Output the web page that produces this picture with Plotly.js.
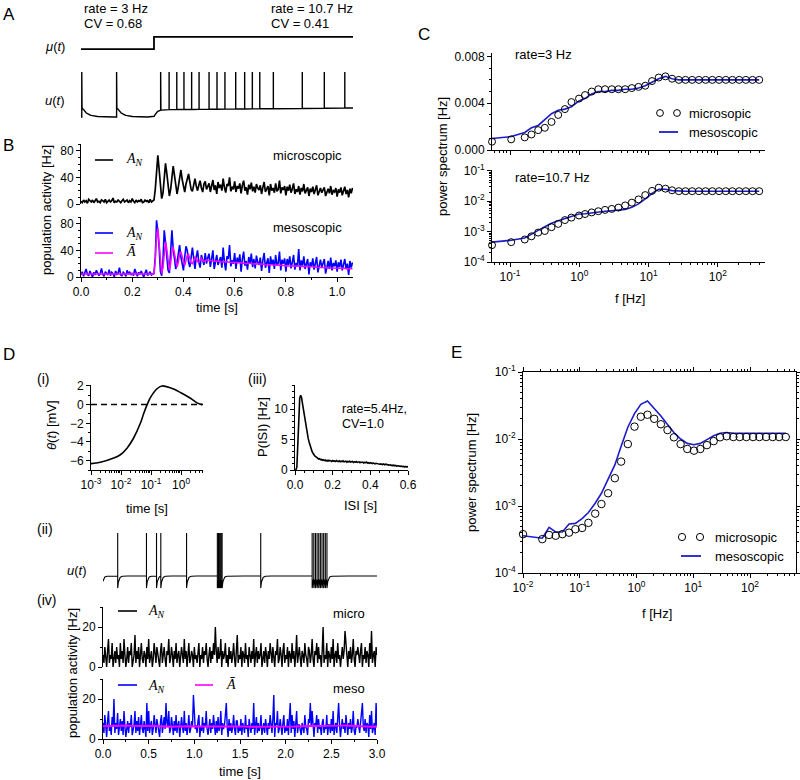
<!DOCTYPE html>
<html><head><meta charset="utf-8">
<script src="https://cdn.plot.ly/plotly-3.0.1.min.js"></script>
<style>body{margin:0;background:#fff}#g{width:800px;height:780px}</style>
</head><body><div id="g"></div>
<script>
// ================= DATA =================
// ---- Panel A : input step and single-neuron membrane potential ----
const aMuT = [0, 0.285, 0.285, 1.062];
const aMuV = [0, 0, 1, 1];
const aSpikes = [0.003, 0.139, 0.311, 0.344, 0.374, 0.402, 0.432, 0.461, 0.500, 0.531, 0.562, 0.604, 0.639, 0.669, 0.698, 0.751, 0.864, 0.950, 1.030];
const aStep = 0.285, aEnd = 1.062;
const aResetLow = 0.22;          // normalised potential after a spike (low input)
const aBaseHigh = [0.16, 0.20];  // normalised resting level under high input

// ---- Panel B : population activity (dt = 5 ms) ----
const bDt = 0.005;
const bMicro = [4,2,6,3,5,1,7,4,3,6, 2,5,8,3,4,2,6,5,3,7, 2,4,6,3,5,9,2,4,3,6, 4,2,5,7,3,4,6,2,5,3, 8,4,2,6,3,5,4,7,2,3, 6,4,5,2,7,3,4,6,
 22,58,73,52,22,8,16,42,61,46, 24,12,22,44,57,43,26,15,26,41, 51,37,25,18,30,40,45,33,22,19, 31,38,27,20,28,35,24,18,30,34, 22,27,
 31,18,26,36,21,28,15,33,24,29, 20,38,25,17,30,27,40,19,26,22, 34,18,27,23,31,16,28,35,20,25, 14,29,22,32,19,26,17,30,24,21,
 28,15,25,33,18,23,27,13,30,20, 24,17,31,19,22,35,16,25,21,27, 13,26,20,29,17,23,31,15,22,18, 27,14,24,19,30,16,21,25,12,23,
 18,26,15,22,28,13,20,24,17,21, 25,12,19,23,16,27,14,20,18,24, 11,22,17,25,13,19,26,15,21,10, 23,16,24];
const bMeso = [3,8,1,6,12,4,2,9,5,0, 7,3,10,6,2,5,13,4,1,8, 6,3,11,2,7,5,0,9,4,6, 14,3,2,7,5,1,10,4,8,3, 6,2,12,5,1,7,4,9,3,0, 6,11,2,5,8,3,4,6,
 30,85,68,45,8,2,25,70,52,35, 10,6,38,70,42,30,12,22,35,48, 30,16,10,30,46,40,22,15,34,44, 28,12,30,40,22,14,33,26,18,36, 20,29,
 35,15,28,40,12,26,33,18,24,30, 14,44,22,10,31,27,48,16,25,20, 36,12,29,21,34,8,27,38,17,24, 11,30,20,35,15,27,13,32,22,18,
 29,9,25,36,14,22,28,6,31,19, 26,12,33,17,21,38,10,26,20,28, 8,27,18,31,13,22,33,11,21,16, 42,10,25,17,31,12,20,27,4,22,
 16,28,11,21,30,7,19,26,14,22, 27,5,18,24,12,29,10,21,16,25, 8,22,15,26,10,19,27,12,20,3, 24,14,22];
const bBar = [4.5,4.6,4.5,4.4,4.5,4.6,4.7,4.6,4.5,4.4, 4.4,4.5,4.6,4.6,4.5,4.4,4.5,4.5,4.6,4.7, 4.6,4.5,4.4,4.5,4.6,4.5,4.4,4.4,4.5,4.6, 4.7,4.6,4.5,4.5,4.4,4.5,4.6,4.6,4.5,4.4, 4.5,4.5,4.6,4.5,4.4,4.5,4.6,4.7,4.6,4.5, 4.4,4.5,4.5,4.6,4.5,4.4,4.5,4.6,
 25,62,73,50,18,5,14,40,53,42, 22,10,20,38,45,36,22,15,22,34, 38,30,21,17,25,33,34,27,21,20, 26,30,28,23,22,26,28,25,23,24, 26,25,
 25,24.5,24,24,23.5,23.5,24,24.5,24,23, 22.5,22.5,23,23.5,23,22.5,22,21.5,21.5,22, 22,21.5,21,21,21.5,21.5,21,20.5,20,20,
 20.5,21,20.5,20,19.5,19.5,20,20,19.5,19, 19,19.5,19.5,19,18.5,18,18,18.5,19,18.5, 18,17.5,17.5,18,18,17.5,17,17,17.5,17.5,
 17,16.5,16.5,17,17.5,17,16.5,16,16.5,17, 17,16.5,16,15.5,15.5,16,16,15.5,15,15, 15.5,15.5,15,14.5,14.5,15,15,14.5,14,14,
 14.5,14.5,14,13.5,13.5,14,14,13.5,13.5,14, 14,13.5,13,13,13.5,13.5,13,12.5,12.5,13, 13,12.5,12.5];

// ---- Panel C : power spectra ----
const cFreq = [0.055,0.104,0.163,0.204,0.255,0.318,0.397,0.496,0.62,0.77,0.99,1.21,1.51,1.88,2.35,2.94,3.67,4.59,5.73,7.16,8.95,11.2,14.0,17.5,21.8,27.3,34.1,42.6,53.2,66.5,83.1,104,130,162,203,253,316,395];
const cMicro3 = [0.00071,0.00091,0.00108,0.00133,0.0017,0.0019,0.0024,0.0030,0.0035,0.0041,0.0044,0.0047,0.0050,0.0052,0.0052,0.0052,0.0052,0.0052,0.0053,0.0054,0.0055,0.0059,0.0062,0.0063,0.0061,0.0060,0.0060,0.0060,0.0060,0.0060,0.0060,0.0060,0.0060,0.0060,0.0060,0.0060,0.0060,0.0060];
const cMeso3 = [0.00098,0.00115,0.0015,0.0019,0.0021,0.0026,0.0031,0.0034,0.0035,0.0037,0.0042,0.0044,0.0048,0.0050,0.0050,0.0051,0.0051,0.0052,0.0052,0.0053,0.0055,0.0058,0.0061,0.0063,0.0061,0.0060,0.0060,0.0060,0.0060,0.0060,0.0060,0.0060,0.0060,0.0060,0.0060,0.0060,0.0060,0.0060];
const cMicro10 = [3.6e-4,4.5e-4,5.5e-4,7.0e-4,9.3e-4,1.05e-3,1.4e-3,1.8e-3,2.4e-3,2.9e-3,3.4e-3,3.8e-3,4.3e-3,4.7e-3,5.2e-3,5.6e-3,6.2e-3,7.3e-3,9.0e-3,1.15e-2,1.6e-2,2.2e-2,2.8e-2,2.6e-2,2.3e-2,2.15e-2,2.15e-2,2.15e-2,2.15e-2,2.15e-2,2.15e-2,2.15e-2,2.15e-2,2.15e-2,2.15e-2,2.15e-2,2.15e-2,2.15e-2];
const cMeso10 = [4.5e-4,5.2e-4,6.2e-4,8.5e-4,1.1e-3,1.45e-3,1.9e-3,2.3e-3,2.7e-3,3.2e-3,3.8e-3,3.9e-3,4.2e-3,4.5e-3,4.7e-3,4.9e-3,5.0e-3,5.4e-3,6.3e-3,8.2e-3,1.2e-2,1.8e-2,2.5e-2,2.5e-2,2.25e-2,2.15e-2,2.15e-2,2.15e-2,2.15e-2,2.15e-2,2.15e-2,2.15e-2,2.15e-2,2.15e-2,2.15e-2,2.15e-2,2.15e-2,2.15e-2];

// ---- Panel D(i) : threshold kernel ----
const thT = [0.001,0.00205,0.0057,0.0095,0.0158,0.026,0.044,0.057,0.074,0.095,0.158,0.23,0.44,0.95,2.05,3.4,5.0];
const thV = [-6.32,-6.18,-5.72,-5.37,-4.66,-3.6,-2.0,-0.95,0,0.75,1.7,2.0,1.8,1.3,0.68,0.19,0.0];
const thZeroT = [0.001, 5.4];
const thZeroV = [0, 0];

// ---- Panel D(iii) : ISI density (dt = 5 ms) ----
const isiDt = 0.005;
const isiP = [0,0,0.5,4,9,11.8,12.3,11.9,10.9,9.8, 8.7,7.7,6.8,6.0,5.2,4.6,4.0,3.5,3.1,2.8, 2.5,2.3,2.2,2.0,1.95,1.8,1.85,1.7,1.75,1.6, 1.7,
 1.55,1.65,1.5,1.6,1.45,1.6,1.5,1.55,1.4,1.55, 1.45,1.5,1.4,1.55,1.45,1.4,1.5,1.35,1.45,1.4, 1.5,1.35,1.4,1.45,1.3,1.4,1.35,1.45,1.3,1.35,
 1.4,1.25,1.35,1.3,1.4,1.25,1.3,1.35,1.2,1.3, 1.25,1.3,1.15,1.25,1.2,1.3,1.15,1.2,1.1,1.2, 1.15,1.05,1.15,1.1,1.0,1.1,1.05,1.0,1.05,0.95,
 1.0,0.95,0.9,1.0,0.85,0.95,0.9,0.85,0.9,0.8, 0.85,0.75,0.8,0.7,0.8,0.7,0.75,0.65,0.7,0.65, 0.7,0.6,0.65,0.55,0.6,0.5,0.6,0.5,0.55,0.5];

// ---- Panel D(ii) : membrane potential with bursts ----
const dSpikes = [0.161,0.476,0.586,0.633,0.915,1.252,1.265,1.278,1.291,1.304,1.727,2.290,2.308,2.326,2.344,2.362,2.380,2.398,2.416,2.434,2.452];
const dReset = -0.28, dEnd = 3.0;

// ---- Panel D(iv) : population activity (dt = 10 ms) ----
const dDt = 0.01;
const dMicro = [6,2,10,4,0,8,14,2,6,4,12,0,6,8,2,10,4,6,0,12, 4,8,2,14,6,0,4,10,2,8,6,12,0,4,6,16,2,8,4,10,
 0,6,12,4,2,8,6,0,10,4,14,2,6,8,0,4,12,6,2,10, 6,4,0,8,12,2,6,10,4,0,8,6,14,2,4,10,6,0,8,4,
 12,2,6,8,0,4,10,6,2,14,4,8,0,6,12,2,4,8,6,0, 10,4,6,2,8,12,0,6,4,10,2,8,6,12,4,0,6,10,2,8,
 4,12,6,20,8,2,10,4,6,14,0,8,4,6,12,2,6,0,10,4, 8,2,6,12,4,0,8,16,2,6,4,10,0,8,6,2,12,4,6,0,
 10,6,2,8,4,14,0,6,10,2,8,4,6,12,0,4,8,2,10,6, 0,8,4,12,6,2,10,4,0,8,6,14,2,4,10,6,0,8,12,2,
 6,4,10,0,8,6,2,12,4,8,0,6,16,2,6,10,4,0,8,6, 2,12,6,4,0,10,8,2,6,14,4,0,8,6,12,2,10,4,6,0,
 8,20,2,6,4,12,0,8,6,2,10,4,14,0,6,8,2,12,4,6, 0,6,10,4,8,18,12,6,0,8,4,10,2,6,14,4,0,8,6,10,
 4,2,8,12,0,6,4,10,2,8,6,0,12,4,18,2,6,8,0,10, 6];
const dMeso = [8,3,12,5,1,9,14,4,7,2,11,6,20,3,8,5,13,2,7,10, 4,9,2,14,6,1,5,9,3,8,6,12,2,5,7,14,3,9,4,11,
 2,7,12,5,3,9,6,1,18,4,14,3,7,9,2,5,12,6,3,10, 7,4,1,9,12,3,6,11,5,18,8,6,14,3,5,11,7,2,9,4,
 12,3,7,9,1,5,11,6,3,14,4,8,2,6,12,3,5,9,6,22, 10,5,7,3,9,12,1,6,4,11,3,8,6,14,5,2,6,10,3,8,
 5,12,7,2,9,3,11,4,6,14,2,8,5,7,12,18,6,1,10,4, 8,3,6,12,5,2,9,9,3,6,4,10,2,8,6,3,12,5,7,1,
 10,6,3,8,5,18,2,7,11,3,8,4,6,12,2,5,8,3,10,6, 2,8,5,12,6,3,10,22,1,8,7,14,3,5,10,6,2,8,12,3,
 6,4,10,2,8,18,3,12,5,9,1,6,14,3,7,7,5,2,8,6, 3,12,6,5,2,10,8,18,6,14,4,1,8,7,12,3,10,5,6,2,
 8,10,3,6,5,12,2,7,7,3,10,4,14,2,6,8,3,12,18,7, 1,6,10,5,8,3,12,7,2,8,5,10,3,6,14,4,2,6,6,10,
 5,3,8,12,18,6,4,10,3,8,7,1,12,5,14,3,6,8,2,18, 6];
const dBarDt = 0.05;
const dBar = [6.4,6.5,6.7,6.9,7.0,6.8,6.6,6.5,6.4,6.5, 6.6,6.5,6.3,6.1,6.0,6.1,6.2,6.3,6.4,6.5, 6.4,6.3,6.3,6.2,6.3,6.4,6.5,6.5,6.4,6.3,
 6.3,6.2,6.1,6.1,6.0,6.1,6.2,6.2,6.3,6.2, 6.1,6.2,6.3,6.4,6.4,6.5,6.6,6.6,6.5,6.4, 6.5,6.6,6.7,6.8,6.7,6.5,6.3,6.1,6.0,6.1, 6.2];

// ---- Panel E : power spectrum, rate 5.4 Hz ----
const eFreq = [0.01,0.0219,0.0288,0.0377,0.0494,0.0648,0.0839,0.110,0.142,0.187,0.241,0.316,0.415,0.536,0.703,0.922,1.19,1.56,2.05,2.69,3.52,4.56,5.98,7.84,10.3,13.3,17.4,22.9,29.6,38.8,50.8,65.8,86.2,113,146,192,251,325,426];
const eMicro = [3.8e-4,3.2e-4,3.7e-4,3.6e-4,3.8e-4,4.0e-4,4.5e-4,4.7e-4,5.6e-4,7.7e-4,1.07e-3,1.55e-3,2.6e-3,4.6e-3,8.4e-3,1.53e-2,2.15e-2,2.3e-2,2.0e-2,1.66e-2,1.36e-2,1.06e-2,8.4e-3,7.1e-3,6.7e-3,7.1e-3,8.1e-3,9.3e-3,1.06e-2,1.1e-2,1.07e-2,1.07e-2,1.07e-2,1.07e-2,1.07e-2,1.07e-2,1.07e-2,1.07e-2,1.07e-2];
const eMeso = [3.6e-4,3.3e-4,4.8e-4,4.1e-4,4.1e-4,5.4e-4,5.5e-4,6.5e-4,8.0e-4,1.1e-3,1.55e-3,2.5e-3,4.1e-3,7.8e-3,1.5e-2,2.4e-2,3.3e-2,3.7e-2,2.9e-2,2.2e-2,1.65e-2,1.25e-2,1.0e-2,8.6e-3,8.2e-3,8.6e-3,9.8e-3,1.12e-2,1.22e-2,1.25e-2,1.22e-2,1.22e-2,1.22e-2,1.22e-2,1.22e-2,1.22e-2,1.22e-2,1.22e-2,1.22e-2];

// ---- tick labels ----
const logTickText = {"-4":"10<sup>-4</sup>","-3":"10<sup>-3</sup>","-2":"10<sup>-2</sup>","-1":"10<sup>-1</sup>","0":"10<sup>0</sup>","1":"10<sup>1</sup>","2":"10<sup>2</sup>"};

// ================= BUILD =================
const gridOf = (arr, dt) => arr.map((_, i) => +(i * dt).toFixed(4));
const bT = gridOf(bMicro, bDt), dT = gridOf(dMicro, dDt), dBarT = gridOf(dBar, dBarDt), isiT = gridOf(isiP, isiDt);

function buildA() {
  const x = [], y = []; let last = null, si = 0;
  const dt = 0.002, n = Math.round(aEnd / dt);
  const base = t => aBaseHigh[0] + (aBaseHigh[1] - aBaseHigh[0]) * (t - aStep) / (aEnd - aStep);
  const v = t => {
    const low = last === null ? 0 : aResetLow * Math.exp(-(t - last) / 0.02);
    if (t < aStep) return low;
    const l0 = last === null ? 0 : aResetLow * Math.exp(-(aStep - last) / 0.02);
    return base(t) + (l0 - base(t)) * Math.exp(-(t - aStep) / 0.01);
  };
  for (let i = 0; i <= n; i++) {
    const t = i * dt;
    while (si < aSpikes.length && aSpikes[si] <= t) {
      const ts = aSpikes[si], pre = v(ts);
      x.push(ts, ts, ts); y.push(pre, 1, ts < aStep ? aResetLow : base(ts));
      if (ts < aStep) last = ts;
      si++;
    }
    x.push(t); y.push(v(t));
  }
  return {x, y};
}
function buildD() {
  const x = [], y = []; let last = -0.01, si = 0;
  const dt = 0.002, n = Math.round(dEnd / dt);
  const v = t => dReset * Math.exp(-(t - last) / 0.012);
  for (let i = 0; i <= n; i++) {
    const t = i * dt;
    while (si < dSpikes.length && dSpikes[si] <= t) {
      const ts = dSpikes[si];
      x.push(ts, ts, ts); y.push(v(ts), 1, dReset);
      last = ts; si++;
    }
    x.push(t); y.push(v(t));
  }
  return {x, y};
}
function logMinor(d0, d1) { const v = []; for (let d = d0; d <= d1; d++) for (let k = 2; k <= 9; k++) v.push(k * Math.pow(10, d)); return v; }
function logTicks(d0, d1) { const v = [], t = []; for (let d = d0; d <= d1; d++) { v.push(Math.pow(10, d)); t.push(logTickText[String(d)]); } return {v, t}; }

const uA = buildA(), uD = buildD();
const BLUE = '#0000ff', MAG = '#ff00ff', CBLUE = '#1c1ccc';

const traces = [
  {x: aMuT, y: aMuV, xaxis: 'x', yaxis: 'y', mode: 'lines', line: {color: '#000', width: 1.8}},
  {x: uA.x, y: uA.y, xaxis: 'x2', yaxis: 'y2', mode: 'lines', line: {color: '#000', width: 1.4}},
  {x: bT, y: bMicro, xaxis: 'x3', yaxis: 'y3', mode: 'lines', line: {color: '#000', width: 1.7}},
  {x: bT, y: bMeso, xaxis: 'x4', yaxis: 'y4', mode: 'lines', line: {color: BLUE, width: 1.6}},
  {x: bT, y: bBar, xaxis: 'x4', yaxis: 'y4', mode: 'lines', line: {color: MAG, width: 1.5}},
  {x: cFreq, y: cMeso3, xaxis: 'x5', yaxis: 'y5', mode: 'lines', line: {color: CBLUE, width: 1.6}},
  {x: cFreq, y: cMicro3, xaxis: 'x5', yaxis: 'y5', mode: 'markers', cliponaxis: false, marker: {symbol: 'circle-open', size: 7, color: '#000', line: {width: 1}}},
  {x: cFreq, y: cMeso10, xaxis: 'x6', yaxis: 'y6', mode: 'lines', line: {color: CBLUE, width: 1.6}},
  {x: cFreq, y: cMicro10, xaxis: 'x6', yaxis: 'y6', mode: 'markers', cliponaxis: false, marker: {symbol: 'circle-open', size: 7, color: '#000', line: {width: 1}}},
  {x: thZeroT, y: thZeroV, xaxis: 'x7', yaxis: 'y7', mode: 'lines', line: {color: '#000', width: 1.5, dash: '6px,4px'}},
  {x: thT, y: thV, xaxis: 'x7', yaxis: 'y7', mode: 'lines', line: {color: '#000', width: 1.6, shape: 'spline'}},
  {x: isiT, y: isiP, xaxis: 'x8', yaxis: 'y8', mode: 'lines', line: {color: '#000', width: 1.6}},
  {x: uD.x, y: uD.y, xaxis: 'x9', yaxis: 'y9', mode: 'lines', line: {color: '#000', width: 1.1}},
  {x: dT, y: dMicro, xaxis: 'x10', yaxis: 'y10', mode: 'lines', line: {color: '#000', width: 1.4}},
  {x: dT, y: dMeso, xaxis: 'x11', yaxis: 'y11', mode: 'lines', line: {color: BLUE, width: 1.4}},
  {x: dBarT, y: dBar, xaxis: 'x11', yaxis: 'y11', mode: 'lines', line: {color: MAG, width: 2}},
  {x: eFreq, y: eMeso, xaxis: 'x12', yaxis: 'y12', mode: 'lines', line: {color: CBLUE, width: 1.6}},
  {x: eFreq, y: eMicro, xaxis: 'x12', yaxis: 'y12', mode: 'markers', cliponaxis: false, marker: {symbol: 'circle-open', size: 7.5, color: '#000', line: {width: 1}}}
];
traces.forEach(t => { t.showlegend = false; t.hoverinfo = 'skip'; });

// ================= LAYOUT =================
const W = 800, H = 780;
const PX = p => p / W, PY = p => 1 - p / H;
const xd = (a, b) => [PX(a), PX(b)];
const yd = (top, bot) => [PY(bot), PY(top)];
const base = {showgrid: false, zeroline: false, showline: true, linecolor: '#000', linewidth: 1, ticks: 'outside', ticklen: 4, tickwidth: 1, tickcolor: '#000', tickfont: {size: 12, color: '#000'}, fixedrange: true};
const hid = {visible: false, fixedrange: true};
const mn = (o) => Object.assign({ticks: 'outside', ticklen: 2, tickwidth: 1, tickcolor: '#000'}, o);

const cx = logTicks(-1, 2), cy = logTicks(-4, -1), dix = logTicks(-3, 0), ex = logTicks(-2, 2), ey = logTicks(-4, -1);

const layout = {
  width: W, height: H, margin: {l: 0, r: 0, t: 0, b: 0},
  paper_bgcolor: '#fff', plot_bgcolor: 'rgba(0,0,0,0)', hovermode: false,
  font: {family: 'Liberation Sans, Arial, sans-serif', size: 12, color: '#000'},
  // A
  xaxis:  Object.assign({}, hid, {domain: xd(81, 353), range: [0, 1.062], anchor: 'y'}),
  yaxis:  Object.assign({}, hid, {domain: yd(35, 51), range: [-0.15, 1.15], anchor: 'x'}),
  xaxis2: Object.assign({}, hid, {domain: xd(81, 353), range: [0, 1.062], anchor: 'y2'}),
  yaxis2: Object.assign({}, hid, {domain: yd(70, 120), range: [-0.067, 1.044], anchor: 'x2'}),
  // B
  xaxis3: Object.assign({}, hid, {domain: xd(81, 353), range: [0, 1.062], anchor: 'y3'}),
  yaxis3: Object.assign({}, base, {domain: yd(144, 204), range: [0, 90], tickvals: [0, 40, 80], minor: mn({dtick: 10}), anchor: 'x3'}),
  xaxis4: Object.assign({}, base, {domain: xd(81, 353), range: [0, 1.062], tickvals: [0, 0.2, 0.4, 0.6, 0.8, 1.0], tickformat: '.1f', minor: mn({dtick: 0.1}), anchor: 'y4'}),
  yaxis4: Object.assign({}, base, {domain: yd(217, 277), range: [0, 90], tickvals: [0, 40, 80], minor: mn({dtick: 10}), anchor: 'x4'}),
  // C
  xaxis5: Object.assign({}, base, {type: 'log', domain: xd(492, 765), range: [-1.26, 2.68], tickvals: cx.v, showticklabels: false, minor: mn({tickmode: 'array', tickvals: logMinor(-2, 2)}), anchor: 'y5'}),
  yaxis5: Object.assign({}, base, {domain: yd(53, 150), range: [0, 0.0083], tickvals: [0, 0.004, 0.008], tickformat: '.3f', minor: mn({dtick: 0.001}), anchor: 'x5'}),
  xaxis6: Object.assign({}, base, {type: 'log', domain: xd(492, 765), range: [-1.26, 2.68], tickvals: cx.v, ticktext: cx.t, minor: mn({tickmode: 'array', tickvals: logMinor(-2, 2)}), anchor: 'y6'}),
  yaxis6: Object.assign({}, base, {type: 'log', domain: yd(170, 262), range: [-4, -0.97], tickvals: cy.v, ticktext: cy.t, minor: mn({tickmode: 'array', tickvals: logMinor(-4, -2)}), anchor: 'x6'}),
  // D(i)
  xaxis7: Object.assign({}, base, {type: 'log', domain: xd(91, 203), range: [-3, 0.73], tickvals: dix.v, ticktext: dix.t, minor: mn({tickmode: 'array', tickvals: logMinor(-3, 0)}), anchor: 'y7'}),
  yaxis7: Object.assign({}, base, {domain: yd(385, 470), range: [-7, 2.1], tickvals: [-6, -4, -2, 0, 2], minor: mn({dtick: 1}), anchor: 'x7'}),
  // D(iii)
  xaxis8: Object.assign({}, base, {domain: xd(295, 408), range: [0, 0.6], tickvals: [0, 0.2, 0.4, 0.6], tickformat: '.1f', minor: mn({dtick: 0.05}), anchor: 'y8'}),
  yaxis8: Object.assign({}, base, {domain: yd(385, 470), range: [0, 14], tickvals: [0, 5, 10], minor: mn({dtick: 1}), anchor: 'x8'}),
  // D(ii)
  xaxis9: Object.assign({}, hid, {domain: xd(103, 377), range: [0, 3], anchor: 'y9'}),
  yaxis9: Object.assign({}, hid, {domain: yd(530, 592), range: [-0.37, 1.07], anchor: 'x9'}),
  // D(iv)
  xaxis10: Object.assign({}, hid, {domain: xd(103, 377), range: [0, 3], anchor: 'y10'}),
  yaxis10: Object.assign({}, base, {domain: yd(607, 667), range: [0, 30], tickvals: [0, 20], minor: mn({dtick: 10}), anchor: 'x10'}),
  xaxis11: Object.assign({}, base, {domain: xd(103, 377), range: [0, 3], tickvals: [0, 0.5, 1, 1.5, 2, 2.5, 3], tickformat: '.1f', minor: mn({dtick: 0.25}), anchor: 'y11'}),
  yaxis11: Object.assign({}, base, {domain: yd(679, 739), range: [0, 30], tickvals: [0, 20], minor: mn({dtick: 10}), anchor: 'x11'}),
  // E
  xaxis12: Object.assign({}, base, {type: 'log', domain: xd(523, 796), range: [-2, 2.81], mirror: 'allticks', tickvals: ex.v, ticktext: ex.t, minor: mn({tickmode: 'array', tickvals: logMinor(-2, 2)}), anchor: 'y12'}),
  yaxis12: Object.assign({}, base, {type: 'log', domain: yd(372, 573), range: [-4, -1], mirror: 'allticks', tickvals: ey.v, ticktext: ey.t, minor: mn({tickmode: 'array', tickvals: logMinor(-4, -2)}), anchor: 'x12'})
};

// ---- annotations ----
const A = (text, x, y, o) => Object.assign({text, x: PX(x), y: PY(y), xref: 'paper', yref: 'paper', showarrow: false, xanchor: 'left', yanchor: 'middle', font: {size: 13, color: '#000'}}, o || {});
const SERIF = 'Liberation Serif, DejaVu Serif, serif';
const AN = '<i>A</i><sub><i>N</i></sub>';
const annotations = [
  A('A', 1, 14, {font: {size: 17}}), A('B', 1, 145, {font: {size: 17}}), A('C', 416, 35, {font: {size: 17}}),
  A('D', 1, 355, {font: {size: 17}}), A('E', 449, 353, {font: {size: 17}}),
  A('rate = 3 Hz', 82, 9), A('CV = 0.68', 82, 23), A('rate = 10.7 Hz', 269, 9), A('CV = 0.41', 269, 23),
  A('<i>μ</i>(<i>t</i>)', 67, 46, {xanchor: 'right'}), A('<i>u</i>(<i>t</i>)', 67, 101, {xanchor: 'right'}),
  A('microscopic', 344, 156, {xanchor: 'right'}), A('mesoscopic', 344, 227, {xanchor: 'right'}),
  A(AN, 124, 160, {font: {size: 14, family: SERIF}}), A(AN, 124, 233, {font: {size: 14, family: SERIF}}), A('<i>Ā</i>', 124, 252, {font: {size: 14, family: SERIF}}),
  A('population activity [Hz]', 47, 210, {textangle: -90, xanchor: 'center'}),
  A('time [s]', 217, 308, {xanchor: 'center'}),
  A('rate=3 Hz', 513, 55), A('rate=10.7 Hz', 513, 178),
  A('microsopic', 687, 113), A('mesoscopic', 687, 132),
  A('power spectrum [Hz]', 443, 157, {textangle: -90, xanchor: 'center'}),
  A('f [Hz]', 630, 298, {xanchor: 'center'}),
  A('(i)', 35, 379, {font: {size: 14}}), A('(iii)', 246, 379, {font: {size: 14}}), A('(ii)', 35, 529, {font: {size: 14}}), A('(iv)', 35, 600, {font: {size: 14}}),
  A('<i>θ</i>(<i>t</i>) [mV]', 52, 425, {textangle: -90, xanchor: 'center'}),
  A('time [s]', 147, 508, {xanchor: 'center'}),
  A('P(ISI) [Hz]', 262, 427, {textangle: -90, xanchor: 'center'}),
  A('ISI [s]', 360, 505, {xanchor: 'center'}),
  A('rate=5.4Hz,', 340, 409, {font: {size: 12.5}}), A('CV=1.0', 340, 424, {font: {size: 12.5}}),
  A('<i>u</i>(<i>t</i>)', 89, 570, {xanchor: 'right'}),
  A('population activity [Hz]', 72, 673, {textangle: -90, xanchor: 'center'}),
  A('micro', 367, 613, {xanchor: 'right'}), A('meso', 367, 688, {xanchor: 'right'}),
  A(AN, 146, 611, {font: {size: 14, family: SERIF}}), A(AN, 146, 686, {font: {size: 14, family: SERIF}}), A('<i>Ā</i>', 224, 684, {font: {size: 14, family: SERIF}}),
  A('time [s]', 240, 771, {xanchor: 'center'}),
  A('power spectrum [Hz]', 472, 473, {textangle: -90, xanchor: 'center'}),
  A('f [Hz]', 657, 613, {xanchor: 'center'}),
  A('microsopic', 713, 537), A('mesoscopic', 713, 556)
];
layout.annotations = annotations;

// ---- legend glyphs ----
const hl = (x0, x1, y, color, w) => ({type: 'line', xref: 'paper', yref: 'paper', x0: PX(x0), x1: PX(x1), y0: PY(y), y1: PY(y), line: {color, width: w}});
const ci = (cx, cy, r) => ({type: 'circle', xref: 'paper', yref: 'paper', x0: PX(cx - r), x1: PX(cx + r), y0: PY(cy + r), y1: PY(cy - r), line: {color: '#000', width: 1}});
layout.shapes = [
  hl(95, 113, 160, '#000', 1.6), hl(95, 113, 233, BLUE, 1.6), hl(95, 113, 253, MAG, 1.6),
  ci(660, 113, 3.4), ci(677, 113, 3.4), hl(659, 678, 132, CBLUE, 1.8),
  hl(118, 137, 611, '#000', 1.6), hl(118, 137, 685, BLUE, 1.6), hl(195, 213, 685, MAG, 1.6),
  ci(682, 537, 3.6), ci(700, 537, 3.6), hl(681, 701, 556, CBLUE, 1.8)
];

Plotly.newPlot('g', traces, layout, {staticPlot: true, displayModeBar: false});
</script></body></html>
